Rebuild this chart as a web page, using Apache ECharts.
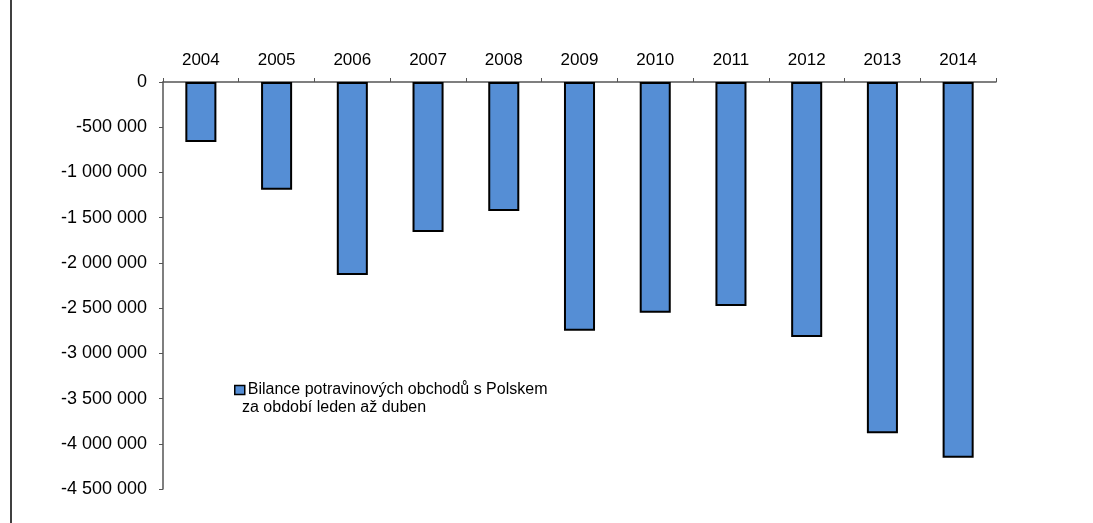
<!DOCTYPE html>
<html>
<head>
<meta charset="utf-8">
<script src="https://cdn.jsdelivr.net/npm/echarts@6/dist/echarts.min.js"></script>
<style>
  html, body { margin: 0; padding: 0; background: #fff; }
  #chart { width: 1093px; height: 523px; }
</style>
</head>
<body>
<div id="chart"></div>
<script>
// roky
var years = ['2004', '2005', '2006', '2007', '2008', '2009', '2010', '2011', '2012', '2013', '2014'];
// bilance (odhad z grafu)
var balance = [-663000, -1190000, -2134000, -1659000, -1425000, -2751000, -2552000, -2478000, -2820000, -3884000, -4155000];
var seriesName = 'Bilance potravinových obchodů s Polskem';
var seriesName2 = 'za období leden až duben';

function fmt(v) {
  var s = String(Math.abs(v)).replace(/\B(?=(\d{3})+(?!\d))/g, ' ');
  return (v < 0 ? '-' : '') + s;
}

var chart = echarts.init(document.getElementById('chart'));
chart.setOption({
  animation: false,
  textStyle: { fontFamily: 'Liberation Sans, Arial, sans-serif' },
  grid: { left: 163, right: 97, top: 82, bottom: 34 },
  xAxis: {
    type: 'category',
    position: 'top',
    data: years,
    axisLine: { lineStyle: { color: '#555', width: 1.5 } },
    axisTick: { show: true, length: 4, lineStyle: { color: '#555' } },
    axisLabel: { color: '#000', fontSize: 17, margin: 13 }
  },
  yAxis: {
    type: 'value',
    min: -4500000,
    max: 0,
    interval: 500000,
    splitLine: { show: false },
    axisLine: { show: true, lineStyle: { color: '#555', width: 1.5 } },
    axisTick: { show: true, length: 4, lineStyle: { color: '#555' } },
    axisLabel: { color: '#000', fontSize: 18, margin: 16, formatter: fmt }
  },
  legend: {
    left: 229,
    top: 377,
    icon: 'rect',
    itemWidth: 10,
    itemHeight: 9,
    itemGap: 3,
    itemStyle: { borderWidth: 1.5, borderColor: '#000' },
    textStyle: { color: '#000', fontSize: 16, padding: [0, 0, 0, -2] },
    data: [seriesName]
  },
  graphic: [
    {
      type: 'line',
      shape: { x1: 11, y1: 0, x2: 11, y2: 523 },
      style: { stroke: '#000', lineWidth: 1.5 }
    },
    {
      type: 'text',
      left: 242,
      top: 400,
      style: { text: seriesName2, fill: '#000', fontSize: 16, fontFamily: 'Liberation Sans, Arial, sans-serif' }
    }
  ],
  series: [{
    name: seriesName,
    type: 'bar',
    data: balance,
    barWidth: '41%',
    itemStyle: { color: '#558ed5', borderColor: '#000', borderWidth: 2 }
  }]
});
</script>
</body>
</html>
